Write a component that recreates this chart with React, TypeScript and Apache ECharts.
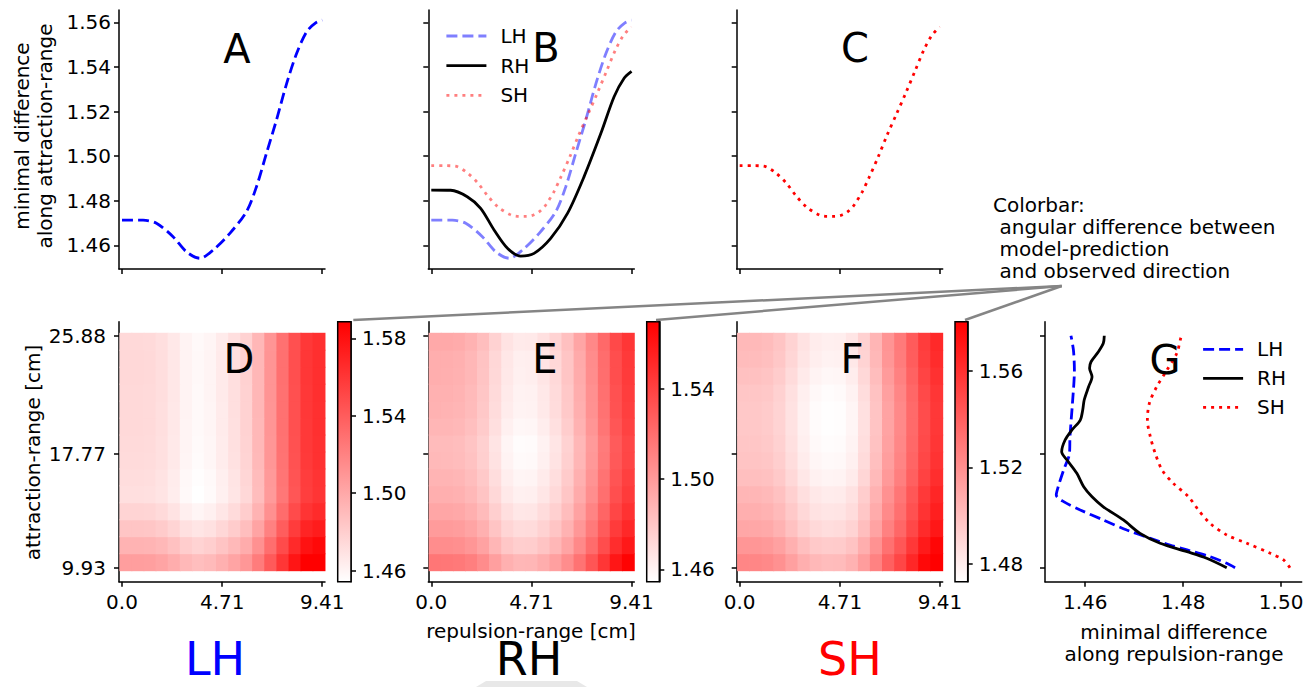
import React, { useEffect, useRef } from 'react';
import * as echarts from 'echarts';

const FONT = 'DejaVu Sans';
const FONT_STR = (s: number) => `${s}px "DejaVu Sans"`;

// ---- top panels: minimal difference along attraction-range (per repulsion-range) ----
const LH_X = [0, 0.99, 1.62, 2.40, 3.03, 3.66, 4.28, 5.07, 5.85, 6.32, 6.79, 7.26, 7.74, 8.21, 8.68, 9.10, 9.41];
const LH_MIN_ATTR = [1.4713, 1.4713, 1.4699, 1.4639, 1.4571, 1.4542, 1.4579, 1.4654, 1.4751, 1.4863, 1.5013, 1.5162, 1.5326, 1.5461, 1.5558, 1.5597, 1.5610];

const RH_X = [0, 0.91, 1.69, 2.32, 2.95, 3.58, 4.20, 4.83, 5.61, 6.40, 7.18, 7.97, 8.59, 9.06, 9.41];
const RH_MIN_ATTR = [1.4848, 1.4847, 1.4818, 1.4766, 1.4669, 1.4587, 1.4552, 1.4564, 1.4631, 1.4743, 1.4908, 1.5102, 1.5266, 1.5349, 1.5380];

const SH_X = [0, 0.66, 1.13, 1.68, 2.20, 2.65, 3.14, 3.75, 4.11, 4.47, 4.83, 5.13, 5.38, 5.76, 6.07, 6.51, 6.93, 7.37, 7.81, 8.24, 8.66, 9.01, 9.24, 9.41];
const SH_MIN_ATTR = [1.4957, 1.4957, 1.4955, 1.4926, 1.4878, 1.4822, 1.4772, 1.4736, 1.4730, 1.4730, 1.4737, 1.4755, 1.4781, 1.4840, 1.4902, 1.4997, 1.5095, 1.5189, 1.5284, 1.5382, 1.5477, 1.5539, 1.5564, 1.5578];

// ---- panel G: minimal difference along repulsion-range (per attraction-range) ----
const LH_G_Y = [9.93, 10.23, 10.69, 11.15, 11.49, 11.95, 12.52, 13.21, 13.90, 14.47, 14.93, 15.50, 16.65, 17.79, 18.94, 21.23, 23.52, 24.90, 25.88];
const LH_MIN_REP = [1.4906, 1.4889, 1.4855, 1.4808, 1.4773, 1.4733, 1.4685, 1.4637, 1.4590, 1.4556, 1.4541, 1.4545, 1.4556, 1.4568, 1.4569, 1.4574, 1.4578, 1.4576, 1.4571];

const RH_G_Y = [9.93, 10.58, 11.03, 11.61, 12.29, 13.21, 14.12, 14.81, 15.50, 16.42, 17.33, 17.90, 18.71, 19.40, 20.08, 20.77, 21.46, 22.37, 23.06, 23.64, 24.09, 24.78, 25.36, 25.88];
const RH_MIN_REP = [1.4889, 1.4848, 1.4808, 1.4753, 1.4712, 1.4678, 1.4637, 1.4614, 1.4597, 1.4583, 1.4563, 1.4552, 1.4559, 1.4573, 1.4590, 1.4595, 1.4598, 1.4607, 1.4614, 1.4609, 1.4612, 1.4627, 1.4637, 1.4639];

const SH_G_Y = [9.93, 10.46, 10.92, 11.61, 12.18, 12.98, 13.90, 14.81, 15.73, 16.65, 17.79, 18.94, 20.08, 21.23, 22.37, 23.52, 24.67, 25.70, 25.88];
const SH_MIN_REP = [1.5018, 1.5005, 1.4978, 1.4930, 1.4889, 1.4855, 1.4831, 1.4811, 1.4780, 1.4757, 1.4743, 1.4733, 1.4727, 1.4731, 1.4746, 1.4767, 1.4787, 1.4795, 1.4797];

// ---- heatmaps: cell centres (repulsion columns, attraction rows, bottom row first) ----
const REPULSION = [0.18, 0.75, 1.32, 1.88, 2.45, 3.02, 3.59, 4.15, 4.72, 5.29, 5.86, 6.42, 6.99, 7.56, 8.13, 8.69, 9.26];
const ATTRACTION = [10.30, 11.47, 12.64, 13.80, 14.97, 16.14, 17.30, 18.47, 19.63, 20.80, 21.97, 23.13, 24.30, 25.47];

const HEAT_LH = [
  [1.5054, 1.5054, 1.5049, 1.5024, 1.4977, 1.4915, 1.4885, 1.4909, 1.4961, 1.5020, 1.5091, 1.5231, 1.5414, 1.5602, 1.5776, 1.5886, 1.5886],
  [1.4945, 1.4945, 1.4940, 1.4915, 1.4868, 1.4806, 1.4776, 1.4800, 1.4852, 1.4911, 1.4982, 1.5122, 1.5305, 1.5493, 1.5667, 1.5792, 1.5837],
  [1.4847, 1.4847, 1.4842, 1.4817, 1.4770, 1.4708, 1.4678, 1.4702, 1.4754, 1.4813, 1.4884, 1.5024, 1.5207, 1.5395, 1.5569, 1.5694, 1.5739],
  [1.4767, 1.4767, 1.4762, 1.4737, 1.4690, 1.4628, 1.4598, 1.4622, 1.4674, 1.4733, 1.4804, 1.4944, 1.5127, 1.5315, 1.5489, 1.5614, 1.5659],
  [1.4713, 1.4713, 1.4708, 1.4683, 1.4636, 1.4574, 1.4544, 1.4568, 1.4620, 1.4679, 1.4750, 1.4890, 1.5073, 1.5261, 1.5435, 1.5560, 1.5605],
  [1.4720, 1.4720, 1.4715, 1.4690, 1.4643, 1.4581, 1.4551, 1.4575, 1.4627, 1.4686, 1.4757, 1.4897, 1.5080, 1.5268, 1.5442, 1.5567, 1.5612],
  [1.4734, 1.4734, 1.4729, 1.4704, 1.4657, 1.4595, 1.4565, 1.4589, 1.4641, 1.4700, 1.4771, 1.4911, 1.5094, 1.5282, 1.5456, 1.5581, 1.5626],
  [1.4738, 1.4738, 1.4733, 1.4708, 1.4661, 1.4599, 1.4569, 1.4593, 1.4645, 1.4704, 1.4775, 1.4915, 1.5098, 1.5286, 1.5460, 1.5585, 1.5630],
  [1.4741, 1.4741, 1.4736, 1.4711, 1.4664, 1.4602, 1.4572, 1.4596, 1.4648, 1.4707, 1.4778, 1.4918, 1.5101, 1.5289, 1.5463, 1.5588, 1.5633],
  [1.4743, 1.4743, 1.4738, 1.4713, 1.4666, 1.4604, 1.4574, 1.4598, 1.4650, 1.4709, 1.4780, 1.4920, 1.5103, 1.5291, 1.5465, 1.5590, 1.5635],
  [1.4745, 1.4745, 1.4740, 1.4715, 1.4668, 1.4606, 1.4576, 1.4600, 1.4652, 1.4711, 1.4782, 1.4922, 1.5105, 1.5293, 1.5467, 1.5592, 1.5637],
  [1.4747, 1.4747, 1.4742, 1.4717, 1.4670, 1.4608, 1.4578, 1.4602, 1.4654, 1.4713, 1.4784, 1.4924, 1.5107, 1.5295, 1.5469, 1.5594, 1.5639],
  [1.4747, 1.4747, 1.4742, 1.4717, 1.4670, 1.4608, 1.4578, 1.4602, 1.4654, 1.4713, 1.4784, 1.4924, 1.5107, 1.5295, 1.5469, 1.5594, 1.5639],
  [1.4743, 1.4743, 1.4738, 1.4713, 1.4666, 1.4604, 1.4574, 1.4598, 1.4650, 1.4709, 1.4780, 1.4920, 1.5103, 1.5291, 1.5465, 1.5590, 1.5635],
];

const HEAT_RH = [
  [1.5163, 1.5162, 1.5153, 1.5123, 1.5067, 1.4977, 1.4903, 1.4869, 1.4875, 1.4916, 1.4973, 1.5060, 1.5180, 1.5314, 1.5455, 1.5598, 1.5686],
  [1.5060, 1.5059, 1.5050, 1.5020, 1.4964, 1.4874, 1.4800, 1.4766, 1.4772, 1.4813, 1.4870, 1.4957, 1.5077, 1.5211, 1.5352, 1.5495, 1.5583],
  [1.4996, 1.4995, 1.4986, 1.4956, 1.4900, 1.4810, 1.4736, 1.4702, 1.4708, 1.4749, 1.4806, 1.4893, 1.5013, 1.5147, 1.5288, 1.5431, 1.5519],
  [1.4948, 1.4947, 1.4938, 1.4908, 1.4852, 1.4762, 1.4688, 1.4654, 1.4660, 1.4701, 1.4758, 1.4845, 1.4965, 1.5099, 1.5240, 1.5383, 1.5471],
  [1.4906, 1.4905, 1.4896, 1.4866, 1.4810, 1.4720, 1.4646, 1.4612, 1.4618, 1.4659, 1.4716, 1.4803, 1.4923, 1.5057, 1.5198, 1.5341, 1.5429],
  [1.4884, 1.4883, 1.4874, 1.4844, 1.4788, 1.4698, 1.4624, 1.4590, 1.4596, 1.4637, 1.4694, 1.4781, 1.4901, 1.5035, 1.5176, 1.5319, 1.5407],
  [1.4860, 1.4859, 1.4850, 1.4820, 1.4764, 1.4674, 1.4600, 1.4566, 1.4572, 1.4613, 1.4670, 1.4757, 1.4877, 1.5011, 1.5152, 1.5295, 1.5383],
  [1.4852, 1.4851, 1.4842, 1.4812, 1.4756, 1.4666, 1.4592, 1.4558, 1.4564, 1.4605, 1.4662, 1.4749, 1.4869, 1.5003, 1.5144, 1.5287, 1.5375],
  [1.4875, 1.4874, 1.4865, 1.4835, 1.4779, 1.4689, 1.4615, 1.4581, 1.4587, 1.4628, 1.4685, 1.4772, 1.4892, 1.5026, 1.5167, 1.5310, 1.5398],
  [1.4891, 1.4890, 1.4881, 1.4851, 1.4795, 1.4705, 1.4631, 1.4597, 1.4603, 1.4644, 1.4701, 1.4788, 1.4908, 1.5042, 1.5183, 1.5326, 1.5414],
  [1.4898, 1.4897, 1.4888, 1.4858, 1.4802, 1.4712, 1.4638, 1.4604, 1.4610, 1.4651, 1.4708, 1.4795, 1.4915, 1.5049, 1.5190, 1.5333, 1.5421],
  [1.4909, 1.4908, 1.4899, 1.4869, 1.4813, 1.4723, 1.4649, 1.4615, 1.4621, 1.4662, 1.4719, 1.4806, 1.4926, 1.5060, 1.5201, 1.5344, 1.5432],
  [1.4912, 1.4911, 1.4902, 1.4872, 1.4816, 1.4726, 1.4652, 1.4618, 1.4624, 1.4665, 1.4722, 1.4809, 1.4929, 1.5063, 1.5204, 1.5347, 1.5435],
  [1.4933, 1.4932, 1.4923, 1.4893, 1.4837, 1.4747, 1.4673, 1.4639, 1.4645, 1.4686, 1.4743, 1.4830, 1.4950, 1.5084, 1.5225, 1.5368, 1.5456],
];

const HEAT_SH = [
  [1.5238, 1.5238, 1.5227, 1.5193, 1.5129, 1.5066, 1.5025, 1.5011, 1.5016, 1.5051, 1.5139, 1.5256, 1.5396, 1.5506, 1.5637, 1.5764, 1.5803],
  [1.5169, 1.5169, 1.5158, 1.5124, 1.5060, 1.4997, 1.4956, 1.4942, 1.4947, 1.4982, 1.5070, 1.5187, 1.5327, 1.5437, 1.5568, 1.5695, 1.5777],
  [1.5099, 1.5099, 1.5088, 1.5054, 1.4990, 1.4927, 1.4886, 1.4872, 1.4877, 1.4912, 1.5000, 1.5117, 1.5257, 1.5367, 1.5498, 1.5625, 1.5707],
  [1.5063, 1.5063, 1.5052, 1.5018, 1.4954, 1.4891, 1.4850, 1.4836, 1.4841, 1.4876, 1.4964, 1.5081, 1.5221, 1.5331, 1.5462, 1.5589, 1.5671],
  [1.5035, 1.5035, 1.5024, 1.4990, 1.4926, 1.4863, 1.4822, 1.4808, 1.4813, 1.4848, 1.4936, 1.5053, 1.5193, 1.5303, 1.5434, 1.5561, 1.5643],
  [1.4999, 1.4999, 1.4988, 1.4954, 1.4890, 1.4827, 1.4786, 1.4772, 1.4777, 1.4812, 1.4900, 1.5017, 1.5157, 1.5267, 1.5398, 1.5525, 1.5607],
  [1.4978, 1.4978, 1.4967, 1.4933, 1.4869, 1.4806, 1.4765, 1.4751, 1.4756, 1.4791, 1.4879, 1.4996, 1.5136, 1.5246, 1.5377, 1.5504, 1.5586],
  [1.4966, 1.4966, 1.4955, 1.4921, 1.4857, 1.4794, 1.4753, 1.4739, 1.4744, 1.4779, 1.4867, 1.4984, 1.5124, 1.5234, 1.5365, 1.5492, 1.5574],
  [1.4958, 1.4958, 1.4947, 1.4913, 1.4849, 1.4786, 1.4745, 1.4731, 1.4736, 1.4771, 1.4859, 1.4976, 1.5116, 1.5226, 1.5357, 1.5484, 1.5566],
  [1.4958, 1.4958, 1.4947, 1.4913, 1.4849, 1.4786, 1.4745, 1.4731, 1.4736, 1.4771, 1.4859, 1.4976, 1.5116, 1.5226, 1.5357, 1.5484, 1.5566],
  [1.4968, 1.4968, 1.4957, 1.4923, 1.4859, 1.4796, 1.4755, 1.4741, 1.4746, 1.4781, 1.4869, 1.4986, 1.5126, 1.5236, 1.5367, 1.5494, 1.5576],
  [1.4989, 1.4989, 1.4978, 1.4944, 1.4880, 1.4817, 1.4776, 1.4762, 1.4767, 1.4802, 1.4890, 1.5007, 1.5147, 1.5257, 1.5388, 1.5515, 1.5597],
  [1.5010, 1.5010, 1.4999, 1.4965, 1.4901, 1.4838, 1.4797, 1.4783, 1.4788, 1.4823, 1.4911, 1.5028, 1.5168, 1.5278, 1.5409, 1.5536, 1.5618],
  [1.5022, 1.5022, 1.5011, 1.4977, 1.4913, 1.4850, 1.4809, 1.4795, 1.4800, 1.4835, 1.4923, 1.5040, 1.5180, 1.5290, 1.5421, 1.5548, 1.5630],
];

// colorbar ranges
const CB_LH = [1.4543, 1.5886];
const CB_RH = [1.4545, 1.5698];
const CB_SH = [1.4727, 1.5803];

// ticks
const TOP_Y_TICKS = [1.46, 1.48, 1.5, 1.52, 1.54, 1.56];
const REP_TICKS = [0, 4.71, 9.41];
const REP_TICK_LABELS = ['0.0', '4.71', '9.41'];
const ATTR_TICKS = [9.93, 17.77, 25.88];
const ATTR_TICK_LABELS = ['9.93', '17.77', '25.88'];
const G_X_TICKS = [1.46, 1.48, 1.5];
const CB_TICKS_LH = [1.46, 1.5, 1.54, 1.58];
const CB_TICKS_RH = [1.46, 1.5, 1.54];
const CB_TICKS_SH = [1.48, 1.52, 1.56];

// layout constants
const CELL_W = 0.567;
const CELL_H = 1.1664;
const X_RANGE = [-0.14, 9.54];
const TOP_Y_RANGE = [1.4494, 1.5655];
const ATTR_RANGE = [8.967, 26.843];
const G_X_RANGE = [1.4518, 1.5042];

const DASH = [11, 5];
const DOT = [3, 5];
const LW = 2.8;

const nearest = (arr: number[], v: number) => {
  let bi = 0;
  arr.forEach((a, i) => {
    if (Math.abs(a - v) < Math.abs(arr[bi] - v)) bi = i;
  });
  return bi;
};

const makeAxis = (
  gridIndex: number,
  range: number[],
  ticks: number[],
  labels: string[] | null,
  margin: number,
  extra: any = {}
) => ({
  type: 'value',
  gridIndex,
  min: range[0],
  max: range[1],
  axisLine: { show: true, onZero: false, lineStyle: { color: '#000', width: 1.5 } },
  axisTick: { show: true, inside: false, length: 5, customValues: ticks, lineStyle: { color: '#000', width: 1.5 } },
  axisLabel: labels
    ? {
        show: true,
        customValues: ticks,
        formatter: (v: number) => labels[nearest(ticks, v)],
        fontSize: 20,
        fontFamily: FONT,
        color: '#000',
        margin,
      }
    : { show: false },
  splitLine: { show: false },
  ...extra,
});

const hiddenAxis = (gridIndex: number) => ({
  type: 'value',
  gridIndex,
  min: 0,
  max: 1,
  show: false,
  splitLine: { show: false },
});

const lineSeries = (
  name: string,
  axisIndex: number,
  xs: number[],
  ys: number[],
  color: string,
  type: any,
  vertical = false
) => ({
  type: 'line',
  name,
  xAxisIndex: axisIndex,
  yAxisIndex: axisIndex,
  data: vertical ? ys.map((v, i) => [v, xs[i]]) : xs.map((v, i) => [v, ys[i]]),
  symbol: 'none',
  showSymbol: false,
  smooth: 0.3,
  clip: false,
  lineStyle: { color, width: LW, type, cap: 'butt' },
  itemStyle: { color },
  emphasis: { disabled: true },
});

const buildCells = (grid: number[][]) => {
  const out: number[][] = [];
  grid.forEach((row, r) => row.forEach((v, c) => out.push([REPULSION[c], ATTRACTION[r], v])));
  return out;
};

const heatSeries = (axisIndex: number, grid: number[][]) => ({
  type: 'custom',
  coordinateSystem: 'cartesian2d',
  xAxisIndex: axisIndex,
  yAxisIndex: axisIndex,
  data: buildCells(grid),
  encode: { x: 0, y: 1 },
  clip: false,
  silent: true,
  renderItem: (_p: any, api: any) => {
    const c = api.coord([api.value(0), api.value(1)]);
    const s = api.size([CELL_W, CELL_H]);
    return {
      type: 'rect',
      shape: { x: c[0] - s[0] / 2 - 0.4, y: c[1] - s[1] / 2 - 0.4, width: s[0] + 0.8, height: s[1] + 0.8 },
      style: { fill: api.visual('color'), stroke: null },
    };
  },
});

const colorbarSeries = (axisIndex: number, range: number[]) => ({
  type: 'custom',
  coordinateSystem: 'cartesian2d',
  xAxisIndex: axisIndex,
  yAxisIndex: axisIndex,
  data: [[0, range[0], range[1]]],
  encode: { x: 0, y: [1, 2] },
  clip: false,
  silent: true,
  z: 1,
  renderItem: (_p: any, api: any) => {
    const top = api.coord([0, api.value(2)]);
    const bot = api.coord([1, api.value(1)]);
    return {
      type: 'rect',
      shape: { x: top[0], y: top[1], width: bot[0] - top[0], height: bot[1] - top[1] },
      style: {
        fill: new echarts.graphic.LinearGradient(0, 0, 0, 1, [
          { offset: 0, color: '#ff0000' },
          { offset: 1, color: '#ffffff' },
        ]),
        stroke: '#000',
        lineWidth: 1.5,
      },
    };
  },
});

const txt = (text: string, x: number, y: number, size: number, extra: any = {}) => ({
  type: 'text',
  x,
  y,
  silent: true,
  z: 50,
  ...extra.el,
  style: {
    text,
    font: FONT_STR(size),
    fontSize: size,
    fontFamily: FONT,
    fill: extra.fill || '#000',
    textFill: extra.fill || '#000',
    align: extra.align || 'center',
    textAlign: extra.align || 'center',
    verticalAlign: 'middle',
    textVerticalAlign: 'middle',
    lineHeight: extra.lineHeight,
    textLineHeight: extra.lineHeight,
  },
});

const gline = (x1: number, y1: number, x2: number, y2: number) => ({
  type: 'line',
  silent: true,
  z: 40,
  shape: { x1, y1, x2, y2 },
  style: { stroke: '#858585', lineWidth: 2.5 },
});

const legendCfg = (names: string[], left: number, top: number, gap: number) => ({
  show: true,
  data: names,
  orient: 'vertical',
  left,
  top,
  padding: 0,
  itemGap: gap,
  itemWidth: 40,
  itemHeight: 14,
  selectedMode: false,
  formatter: (n: string) => n.split('-')[1],
  lineStyle: { width: LW },
  itemStyle: { color: 'rgba(0,0,0,0)', borderColor: 'rgba(0,0,0,0)', borderWidth: 0, opacity: 0 },
  textStyle: { fontSize: 20, fontFamily: FONT, color: '#000', lineHeight: 20, padding: [0, 0, 0, 9] },
});

export default function App() {
  const ref = useRef<HTMLDivElement>(null);

  useEffect(() => {
    document.body.style.margin = '0';
    if (!ref.current) return;
    const chart = echarts.init(ref.current, null, { renderer: 'svg' });

    const grids = [
      { left: 119, top: 10, width: 206, height: 259 },
      { left: 428.3, top: 10, width: 206, height: 259 },
      { left: 736.7, top: 10, width: 206, height: 259 },
      { left: 119, top: 321.7, width: 206, height: 260 },
      { left: 428.3, top: 321.7, width: 206, height: 260 },
      { left: 736.7, top: 321.7, width: 206, height: 260 },
      { left: 1045, top: 321.7, width: 256.7, height: 260 },
      { left: 337.7, top: 321.7, width: 13.3, height: 260 },
      { left: 646.7, top: 321.7, width: 12.6, height: 260 },
      { left: 955, top: 321.7, width: 12.7, height: 260 },
    ].map((g) => ({ ...g, containLabel: false, outerBoundsMode: 'none', show: false }));

    const topYLabels = TOP_Y_TICKS.map((t) => t.toFixed(2));
    const gXLabels = G_X_TICKS.map((t) => t.toFixed(2));

    const xAxis = [
      makeAxis(0, X_RANGE, REP_TICKS, null, 10),
      makeAxis(1, X_RANGE, REP_TICKS, null, 10),
      makeAxis(2, X_RANGE, REP_TICKS, null, 10),
      makeAxis(3, X_RANGE, REP_TICKS, REP_TICK_LABELS, 10),
      makeAxis(4, X_RANGE, REP_TICKS, REP_TICK_LABELS, 10),
      makeAxis(5, X_RANGE, REP_TICKS, REP_TICK_LABELS, 10),
      makeAxis(6, G_X_RANGE, G_X_TICKS, gXLabels, 10),
      hiddenAxis(7),
      hiddenAxis(8),
      hiddenAxis(9),
    ];

    const yAxis = [
      makeAxis(0, TOP_Y_RANGE, TOP_Y_TICKS, topYLabels, 8),
      makeAxis(1, TOP_Y_RANGE, TOP_Y_TICKS, null, 8),
      makeAxis(2, TOP_Y_RANGE, TOP_Y_TICKS, null, 8),
      makeAxis(3, ATTR_RANGE, ATTR_TICKS, ATTR_TICK_LABELS, 13),
      makeAxis(4, ATTR_RANGE, ATTR_TICKS, null, 13),
      makeAxis(5, ATTR_RANGE, ATTR_TICKS, null, 13),
      makeAxis(6, ATTR_RANGE, ATTR_TICKS, null, 13),
      makeAxis(7, CB_LH, CB_TICKS_LH, CB_TICKS_LH.map((t) => t.toFixed(2)), 11, { position: 'right' }),
      makeAxis(8, CB_RH, CB_TICKS_RH, CB_TICKS_RH.map((t) => t.toFixed(2)), 11, { position: 'right' }),
      makeAxis(9, CB_SH, CB_TICKS_SH, CB_TICKS_SH.map((t) => t.toFixed(2)), 11, { position: 'right' }),
    ];

    const series: any[] = [
      lineSeries('A-LH', 0, LH_X, LH_MIN_ATTR, '#0000ff', DASH),
      lineSeries('B-LH', 1, LH_X, LH_MIN_ATTR, 'rgba(0,0,255,0.5)', DASH),
      lineSeries('B-RH', 1, RH_X, RH_MIN_ATTR, '#000000', 'solid'),
      lineSeries('B-SH', 1, SH_X, SH_MIN_ATTR, 'rgba(255,0,0,0.5)', DOT),
      lineSeries('C-SH', 2, SH_X, SH_MIN_ATTR, '#ff0000', DOT),
      heatSeries(3, HEAT_LH),
      heatSeries(4, HEAT_RH),
      heatSeries(5, HEAT_SH),
      lineSeries('G-LH', 6, LH_G_Y, LH_MIN_REP, '#0000ff', DASH, true),
      lineSeries('G-RH', 6, RH_G_Y, RH_MIN_REP, '#000000', 'solid', true),
      lineSeries('G-SH', 6, SH_G_Y, SH_MIN_REP, '#ff0000', DOT, true),
      colorbarSeries(7, CB_LH),
      colorbarSeries(8, CB_RH),
      colorbarSeries(9, CB_SH),
    ];

    const vm = (seriesIndex: number, range: number[]) => ({
      type: 'continuous',
      show: false,
      seriesIndex,
      dimension: 2,
      min: range[0],
      max: range[1],
      inRange: { color: ['#ffffff', '#ff0000'] },
    });

    const graphic = [
      { type: 'polygon', silent: true, z: 0, shape: { points: [[476, 687], [486, 681], [577, 681], [587, 687]] }, style: { fill: '#e8e8e8' } },
      txt('minimal difference\nalong attraction-range', 33.5, 136, 20, { lineHeight: 23, el: { rotation: Math.PI / 2 } }),
      txt('attraction-range [cm]', 33, 452.5, 20, { el: { rotation: Math.PI / 2 } }),
      txt('repulsion-range [cm]', 531, 631, 20),
      txt('minimal difference\nalong repulsion-range', 1174, 643, 20, { lineHeight: 22 }),
      txt('A', 237, 49, 40),
      txt('B', 546, 48, 40),
      txt('C', 855, 48, 40),
      txt('D', 239, 359, 40),
      txt('E', 545, 359, 40),
      txt('F', 852, 359, 40),
      txt('G', 1165, 360, 40),
      txt('Colorbar:', 993, 205, 20, { align: 'left' }),
      txt('angular difference between', 999.5, 227, 20, { align: 'left' }),
      txt('model-prediction', 999.5, 249, 20, { align: 'left' }),
      txt('and observed direction', 999.5, 271, 20, { align: 'left' }),
      gline(1061.7, 286, 353.3, 320),
      gline(1061.7, 286, 656, 320),
      gline(1061.7, 286, 965, 320),
      txt('LH', 215, 659, 46, { fill: '#0000ff' }),
      txt('RH', 529, 659, 46, { fill: '#000000' }),
      txt('SH', 850, 659, 46, { fill: '#ff0000' }),
    ];

    chart.setOption({
      animation: false,
      backgroundColor: '#ffffff',
      textStyle: { fontFamily: FONT },
      grid: grids,
      xAxis,
      yAxis,
      series,
      visualMap: [vm(5, CB_LH), vm(6, CB_RH), vm(7, CB_SH)],
      legend: [
        legendCfg(['B-LH', 'B-RH', 'B-SH'], 445, 26, 9.7),
        legendCfg(['G-LH', 'G-RH', 'G-SH'], 1201.7, 339.3, 9),
      ],
      graphic,
    } as any);

    return () => {
      chart.dispose();
    };
  }, []);

  return <div ref={ref} style={{ width: 1315, height: 687 }} />;
}
